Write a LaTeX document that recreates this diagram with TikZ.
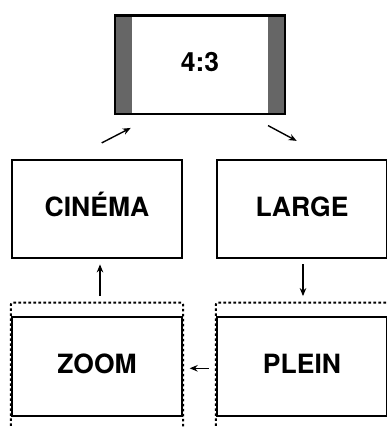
\documentclass[tikz,border=0pt]{standalone}
\usepackage{fontspec}
\setmainfont{TeX Gyre Heros}
\usetikzlibrary{arrows.meta}
\begin{document}
\begin{tikzpicture}[x=1pt,y=-1pt,
  box/.style={draw, line width=2.3pt, minimum width=170pt, minimum height=98.5pt, inner sep=0pt,
    font=\bfseries\fontsize{26.5}{30}\selectfont, text height=19pt, text depth=5pt},
  arr/.style={-{Stealth[length=8pt,width=6.5pt]}, line width=1.4pt},
  frame/.style={line width=2pt, dash pattern=on 2.6pt off 2.4pt, rounded corners=2pt},
  band/.style={fill=black!60, draw=none}]
\useasboundingbox (0,0) rectangle (387,428);
% 4:3 screen with side bands
\fill[band] (114.7,15.3) rectangle (131.7,114);
\fill[band] (268.3,15.3) rectangle (285,114);
\node[box, line width=2.6pt] (top) at (200,64.7) {4:3};
\node[box] (cinema) at (97,209) {CINÉMA};
\node[box] (large) at (302,209) {LARGE};
\node[box] (zoom) at (97,366.5) {ZOOM};
\node[box] (plein) at (302,366.5) {PLEIN};
% dotted frames
\draw[frame] ([yshift=-14pt]zoom.south west) -- ([yshift=13.5pt]zoom.north west)
  -- ([yshift=13.5pt]zoom.north east) -- ([yshift=-14pt]zoom.south east);
\draw[frame] ([yshift=-14pt]plein.south west) -- ([yshift=13.5pt]plein.north west)
  -- ([yshift=13.5pt]plein.north east) -- ([yshift=-14pt]plein.south east);
% arrows
\draw[arr] ([xshift=4.7pt,yshift=15.7pt]cinema.north) -- ([xshift=17pt,yshift=-12.7pt]top.south west);
\draw[arr] ([xshift=-18.3pt,yshift=-10.3pt]top.south east) -- ([xshift=-5.3pt,yshift=17.7pt]large.north);
\draw[arr] ([xshift=3pt,yshift=20pt]zoom.north) -- ([xshift=3pt,yshift=-5pt]cinema.south);
\draw[arr] ([xshift=1pt,yshift=-5pt]large.south) -- ([xshift=1pt,yshift=20pt]plein.north);
\draw[arr] ([xshift=-7pt,yshift=-1.8pt]plein.west) -- ([xshift=6.5pt,yshift=-1.8pt]zoom.east);
\end{tikzpicture}
\end{document}
